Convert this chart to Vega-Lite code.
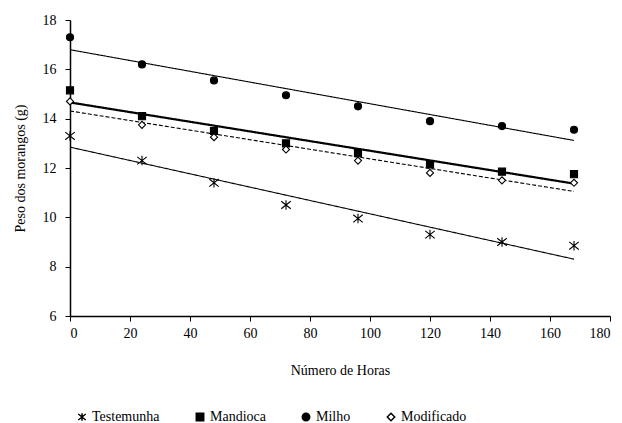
{
  "$schema": "https://vega.github.io/schema/vega-lite/v6.json",
  "autosize": "none",
  "width": 540,
  "height": 296,
  "padding": {"left": 70, "top": 20, "right": 12, "bottom": 107},
  "background": "white",
  "config": {
    "view": {"stroke": null},
    "font": "Times New Roman",
    "axis": {
      "grid": false,
      "domainColor": "black",
      "domainWidth": 1.5,
      "tickColor": "black",
      "tickSize": 5,
      "labelFont": "Times New Roman",
      "labelFontSize": 14,
      "labelColor": "black",
      "titleFont": "Times New Roman",
      "titleFontSize": 14,
      "titleFontWeight": "normal",
      "titleColor": "black"
    },
    "legend": {
      "labelFont": "Times New Roman",
      "labelFontSize": 14,
      "labelColor": "black"
    }
  },
  "data": {
    "values": [
      {"horas": 0, "serie": "Testemunha", "peso": 13.3},
      {"horas": 24, "serie": "Testemunha", "peso": 12.3},
      {"horas": 48, "serie": "Testemunha", "peso": 11.4},
      {"horas": 72, "serie": "Testemunha", "peso": 10.5},
      {"horas": 96, "serie": "Testemunha", "peso": 9.95},
      {"horas": 120, "serie": "Testemunha", "peso": 9.3},
      {"horas": 144, "serie": "Testemunha", "peso": 9.0},
      {"horas": 168, "serie": "Testemunha", "peso": 8.85},
      {"horas": 0, "serie": "Mandioca", "peso": 15.15},
      {"horas": 24, "serie": "Mandioca", "peso": 14.1},
      {"horas": 48, "serie": "Mandioca", "peso": 13.5},
      {"horas": 72, "serie": "Mandioca", "peso": 13.0},
      {"horas": 96, "serie": "Mandioca", "peso": 12.6},
      {"horas": 120, "serie": "Mandioca", "peso": 12.15},
      {"horas": 144, "serie": "Mandioca", "peso": 11.85},
      {"horas": 168, "serie": "Mandioca", "peso": 11.75},
      {"horas": 0, "serie": "Milho", "peso": 17.3},
      {"horas": 24, "serie": "Milho", "peso": 16.2},
      {"horas": 48, "serie": "Milho", "peso": 15.55},
      {"horas": 72, "serie": "Milho", "peso": 14.95},
      {"horas": 96, "serie": "Milho", "peso": 14.5},
      {"horas": 120, "serie": "Milho", "peso": 13.9},
      {"horas": 144, "serie": "Milho", "peso": 13.7},
      {"horas": 168, "serie": "Milho", "peso": 13.55},
      {"horas": 0, "serie": "Modificado", "peso": 14.7},
      {"horas": 24, "serie": "Modificado", "peso": 13.75},
      {"horas": 48, "serie": "Modificado", "peso": 13.25},
      {"horas": 72, "serie": "Modificado", "peso": 12.75},
      {"horas": 96, "serie": "Modificado", "peso": 12.3},
      {"horas": 120, "serie": "Modificado", "peso": 11.8},
      {"horas": 144, "serie": "Modificado", "peso": 11.5},
      {"horas": 168, "serie": "Modificado", "peso": 11.4}
    ]
  },
  "encoding": {
    "x": {
      "field": "horas",
      "type": "quantitative",
      "scale": {"domain": [0, 180], "nice": false},
      "axis": {"values": [0, 20, 40, 60, 80, 100, 120, 140, 160, 180], "title": "Número de Horas", "labelPadding": 5, "titlePadding": 23}
    },
    "y": {
      "field": "peso",
      "type": "quantitative",
      "scale": {"domain": [6, 18], "nice": false, "zero": false},
      "axis": {"values": [6, 8, 10, 12, 14, 16, 18], "title": "Peso dos morangos (g)", "labelPadding": 9, "titlePadding": 15}
    }
  },
  "layer": [
    {
      "transform": [{"regression": "peso", "on": "horas", "groupby": ["serie"]}],
      "mark": {"type": "line", "color": "black"},
      "encoding": {
        "detail": {"field": "serie"},
        "strokeWidth": {"condition": {"test": "datum.serie === 'Mandioca'", "value": 2.2}, "value": 1.1},
        "strokeDash": {"condition": {"test": "datum.serie === 'Modificado'", "value": [4, 2]}, "value": [1, 0]}
      }
    },
    {
      "mark": {"type": "point", "stroke": "black", "strokeWidth": 1.1, "opacity": 1},
      "encoding": {
        "size": {"condition": {"test": "datum.serie === 'Testemunha'", "value": 90}, "value": 50},
        "shape": {
          "field": "serie",
          "type": "nominal",
          "scale": {
            "domain": ["Testemunha", "Mandioca", "Milho", "Modificado"],
            "range": ["M-1,-0.8L1,0.8M-1,0.8L1,-0.8M0,-1L0,1", "square", "circle", "diamond"]
          },
          "legend": {
            "title": null,
            "orient": "bottom",
            "direction": "horizontal",
            "offset": 28,
            "padding": 5,
            "columnPadding": 33,
            "symbolSize": 55,
            "labelOffset": 3,
            "encode": {"symbols": {"update": {"stroke": {"value": "black"}, "strokeWidth": {"value": 1}}}}
          }
        },
        "fill": {
          "field": "serie",
          "type": "nominal",
          "scale": {
            "domain": ["Testemunha", "Mandioca", "Milho", "Modificado"],
            "range": ["transparent", "black", "black", "white"]
          },
          "legend": {
            "title": null,
            "orient": "bottom",
            "direction": "horizontal",
            "offset": 28,
            "padding": 5,
            "columnPadding": 33,
            "symbolSize": 55,
            "labelOffset": 3,
            "encode": {"symbols": {"update": {"stroke": {"value": "black"}, "strokeWidth": {"value": 1}}}}
          }
        }
      }
    }
  ]
}
